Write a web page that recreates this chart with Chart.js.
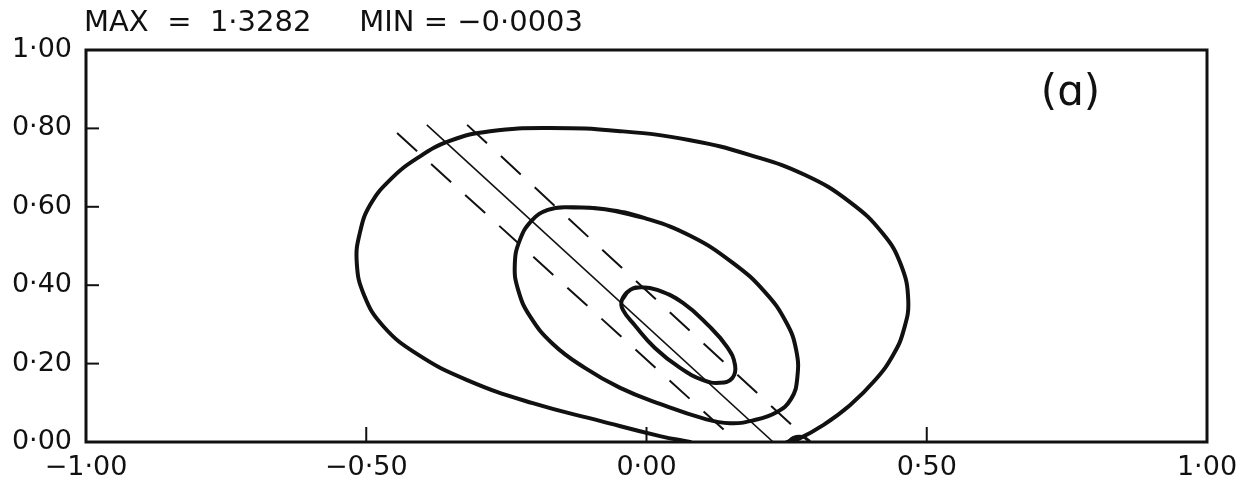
<!DOCTYPE html>
<html>
<head>
<meta charset="utf-8">
<script src="https://cdn.jsdelivr.net/npm/chart.js@4"></script>
<style>
  html, body { margin: 0; padding: 0; background: #fff; }
  #wrap { width: 1242px; height: 485px; position: relative; }
</style>
</head>
<body>
<div id="wrap"><canvas id="c"></canvas></div>
<script>
// ---- data ----
const xTickValues = [-1, -0.5, 0, 0.5, 1];
const yTickValues = [0, 0.2, 0.4, 0.6, 0.8, 1.0];
const innerTickX = [-0.5, 0, 0.5];
const innerTickY = [0.2, 0.4, 0.6, 0.8];
const headerMax = "MAX  =  1·3282";
const headerMin = "MIN = −0·0003";
const panelLabel = "(ɑ)";

const outerContour = [
  [0.078, 0.000], [0.024, 0.015], [-0.083, 0.054], [-0.203, 0.099], [-0.320, 0.158],
  [-0.409, 0.224], [-0.470, 0.296], [-0.504, 0.375], [-0.517, 0.459], [-0.511, 0.536],
  [-0.493, 0.605], [-0.458, 0.668], [-0.409, 0.724], [-0.351, 0.768], [-0.279, 0.793],
  [-0.172, 0.801], [-0.047, 0.793], [0.078, 0.770], [0.185, 0.732], [0.283, 0.681],
  [0.363, 0.612], [0.422, 0.531], [0.454, 0.452], [0.467, 0.362], [0.459, 0.286],
  [0.440, 0.222], [0.408, 0.158], [0.363, 0.094], [0.313, 0.041], [0.274, 0.010],
  [0.251, 0.000]
];
const outerBump = [[0.252, 0.000], [0.262, 0.012], [0.278, 0.014], [0.290, 0.003]];

const middleContour = [
  [-0.142, 0.599], [-0.074, 0.594], [-0.003, 0.571], [0.078, 0.526], [0.154, 0.457],
  [0.211, 0.383], [0.249, 0.306], [0.267, 0.235], [0.269, 0.163], [0.258, 0.110],
  [0.232, 0.076], [0.190, 0.055], [0.149, 0.048], [0.104, 0.059], [0.024, 0.097],
  [-0.047, 0.138], [-0.110, 0.189], [-0.167, 0.250], [-0.208, 0.321], [-0.229, 0.388],
  [-0.235, 0.452], [-0.226, 0.515], [-0.204, 0.566], [-0.176, 0.592]
];

const innerContour = [
  [-0.044, 0.362], [-0.029, 0.388], [-0.008, 0.395], [0.019, 0.388], [0.065, 0.355],
  [0.110, 0.298], [0.144, 0.242], [0.158, 0.196], [0.153, 0.163], [0.131, 0.151],
  [0.101, 0.158], [0.060, 0.189], [0.015, 0.240], [-0.021, 0.298], [-0.042, 0.337]
];

const solidLine = [[-0.392, 0.809], [0.226, 0.000]];
const dashedLineLeft = [[-0.445, 0.788], [0.162, 0.000]];
const dashedLineRight = [[-0.320, 0.809], [0.292, 0.000]];

// ---- helpers ----
const toPts = arr => arr.map(p => ({ x: p[0], y: p[1] }));
const closeLoop = arr => arr.concat([arr[0], arr[1], arr[2]]);
const fmt = v => {
  const r = Math.round(v * 100) / 100;
  return (r < 0 ? "−" : "") + Math.abs(r).toFixed(2).replace(".", "·");
};
const FONT = "'DejaVu Sans', sans-serif";

const curveStyle = (data, w) => ({
  data: toPts(data), showLine: true, borderColor: "#111", borderWidth: w,
  pointRadius: 0, tension: 0.45, fill: false, borderCapStyle: "round", borderJoinStyle: "round"
});
const straightStyle = (data, w, dash) => ({
  data: toPts(data), showLine: true, borderColor: "#111", borderWidth: w,
  pointRadius: 0, tension: 0, fill: false, borderDash: dash || []
});

const framePlugin = {
  id: "frame",
  afterDraw(chart) {
    const { ctx, chartArea: a, scales } = chart;
    ctx.save();
    ctx.strokeStyle = "#111";
    ctx.lineWidth = 3;
    ctx.strokeRect(a.left, a.top, a.right - a.left, a.bottom - a.top);
    ctx.lineWidth = 2;
    innerTickX.forEach(v => {
      const px = scales.x.getPixelForValue(v);
      ctx.beginPath(); ctx.moveTo(px, a.bottom); ctx.lineTo(px, a.bottom - 15); ctx.stroke();
    });
    innerTickY.forEach(v => {
      const py = scales.y.getPixelForValue(v);
      ctx.beginPath(); ctx.moveTo(a.left, py); ctx.lineTo(a.left + 13, py); ctx.stroke();
    });
    ctx.fillStyle = "#111";
    ctx.textBaseline = "alphabetic";
    ctx.textAlign = "left";
    ctx.font = "29px " + FONT;
    ctx.fillText(headerMax, a.left - 2, 31);
    ctx.fillText(headerMin, scales.x.getPixelForValue(-0.5125), 31);
    ctx.font = "42px " + FONT;
    ctx.fillText(panelLabel, scales.x.getPixelForValue(0.7035), 105);
    ctx.restore();
  }
};

new Chart(document.getElementById("c"), {
  type: "scatter",
  data: {
    datasets: [
      curveStyle(outerContour, 4),
      curveStyle(outerBump, 3),
      curveStyle(closeLoop(middleContour), 4),
      curveStyle(closeLoop(innerContour), 4),
      straightStyle(solidLine, 1.6),
      straightStyle(dashedLineLeft, 2, [27, 19]),
      straightStyle(dashedLineRight, 2, [27, 19])
    ]
  },
  options: {
    responsive: true,
    maintainAspectRatio: false,
    animation: false,
    layout: { padding: { left: 0, right: 35, top: 50, bottom: 0 } },
    plugins: { legend: { display: false }, tooltip: { enabled: false }, title: { display: false } },
    scales: {
      x: {
        type: "linear", min: -1, max: 1,
        afterBuildTicks: s => { s.ticks = xTickValues.map(v => ({ value: v })); },
        afterFit: s => { s.height = 43; s.paddingLeft = 0; s.paddingRight = 0; },
        grid: { display: false, drawTicks: false },
        border: { display: false },
        ticks: { color: "#111", padding: 10, maxRotation: 0, font: { family: FONT, size: 27 }, callback: v => fmt(v) }
      },
      y: {
        type: "linear", min: 0, max: 1,
        afterBuildTicks: s => { s.ticks = yTickValues.map(v => ({ value: v })); },
        afterFit: s => { s.width = 86; s.paddingTop = 0; s.paddingBottom = 0; },
        grid: { display: false, drawTicks: false },
        border: { display: false },
        ticks: { color: "#111", padding: 14, font: { family: FONT, size: 27 }, callback: v => fmt(v) }
      }
    }
  },
  plugins: [framePlugin]
});
</script>
</body>
</html>
